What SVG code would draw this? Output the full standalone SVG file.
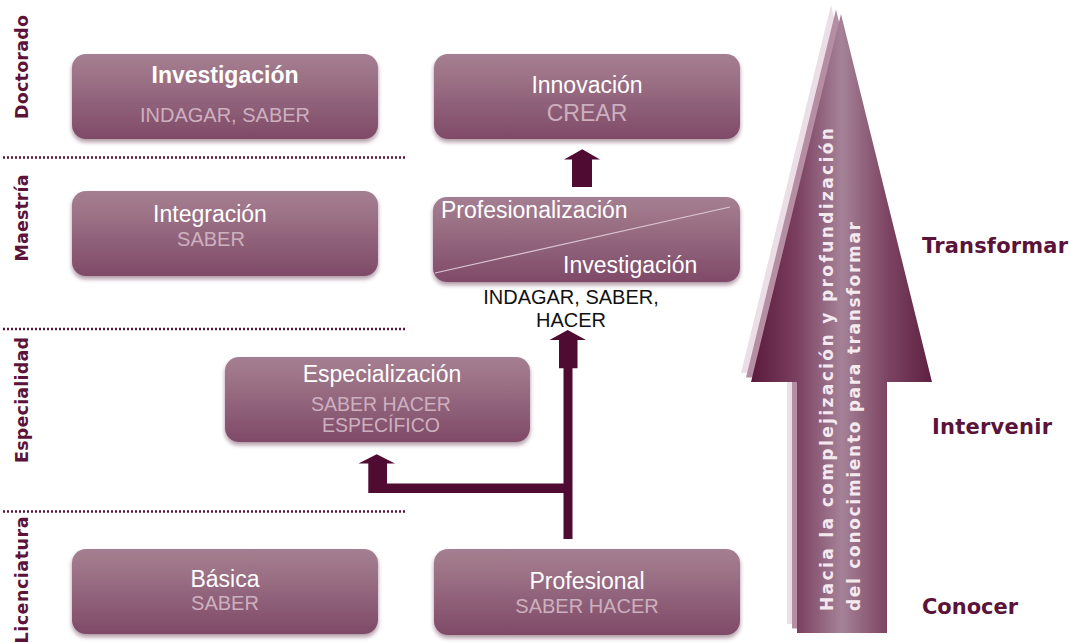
<svg xmlns="http://www.w3.org/2000/svg" width="1072" height="643" viewBox="0 0 1072 643">
  <defs>
    <linearGradient id="boxFill" x1="0" y1="0" x2="0" y2="1">
      <stop offset="0" stop-color="#a47f91"/>
      <stop offset="0.2" stop-color="#9f7689"/>
      <stop offset="1" stop-color="#7f4a68"/>
    </linearGradient>
    <linearGradient id="bigArrowFill" gradientUnits="userSpaceOnUse" x1="751" y1="0" x2="932" y2="0">
      <stop offset="0" stop-color="#5a1a3c"/>
      <stop offset="0.25" stop-color="#7a3e5e"/>
      <stop offset="0.5" stop-color="#a58298"/>
      <stop offset="0.75" stop-color="#7d4563"/>
      <stop offset="1" stop-color="#5e2042"/>
    </linearGradient>
    <filter id="boxShadow" x="-5%" y="-10%" width="110%" height="130%">
      <feDropShadow dx="0" dy="3" stdDeviation="2.2" flood-color="#4a1a36" flood-opacity="0.45"/>
    </filter>
    <polygon id="bigArrowShape" points="841,14 932,382 887,382 887,633 797,633 797,382 751,382"/>
  </defs>
  <style>
    .box { fill: url(#boxFill); filter: url(#boxShadow); }
    .title { font-family: "Liberation Sans", Arial, sans-serif; font-size: 23px; fill: #ffffff; text-anchor: middle; }
    .title-left { font-family: "Liberation Sans", Arial, sans-serif; font-size: 23px; fill: #ffffff; text-anchor: start; }
    .sub { font-family: "Liberation Sans", Arial, sans-serif; font-size: 20px; fill: #cdb0bf; text-anchor: middle; }
    .note { font-family: "Liberation Sans", Arial, sans-serif; font-size: 20px; fill: #111111; text-anchor: middle; }
    .level { font-family: "DejaVu Sans", Verdana, sans-serif; font-weight: bold; font-size: 17.5px; fill: #5b1339; text-anchor: middle; }
    .stage { font-family: "DejaVu Sans", Verdana, sans-serif; font-weight: bold; font-size: 21px; fill: #5b1339; }
    .divider { stroke: #5b1339; stroke-width: 2.5; stroke-dasharray: 2 2; fill: none; }
    .link { fill: #4f0b31; }
    .arrowText { font-family: "DejaVu Sans", Verdana, sans-serif; font-weight: bold; font-size: 17px; fill: #f4e9ef; }
  </style>

  <rect width="1072" height="643" fill="#ffffff"/>

  <!-- level dividers -->
  <g id="dividers">
    <line class="divider" x1="3" y1="157.5" x2="405" y2="157.5"/>
    <line class="divider" x1="3" y1="329" x2="405" y2="329"/>
    <line class="divider" x1="3" y1="511.5" x2="405" y2="511.5"/>
  </g>

  <!-- level labels -->
  <g id="levels">
    <text class="level" transform="translate(28,67) rotate(-90)" textLength="104">Doctorado</text>
    <text class="level" transform="translate(28,218) rotate(-90)" textLength="87">Maestría</text>
    <text class="level" transform="translate(28,400) rotate(-90)" textLength="126">Especialidad</text>
    <text class="level" transform="translate(28,580) rotate(-90)" textLength="127">Licenciatura</text>
  </g>

  <!-- Doctorado -->
  <g id="investigacion">
    <rect class="box" x="72" y="54" width="306" height="85" rx="14"/>
    <text class="title" x="225" y="83" font-weight="bold">Investigación</text>
    <text class="sub" x="225" y="122">INDAGAR, SABER</text>
  </g>
  <g id="innovacion">
    <rect class="box" x="434" y="54" width="306" height="85" rx="14"/>
    <text class="title" x="587" y="93">Innovación</text>
    <text class="sub" x="587" y="121" style="font-size:23px">CREAR</text>
  </g>

  <!-- Maestría -->
  <g id="integracion">
    <rect class="box" x="72" y="191" width="306" height="85" rx="14"/>
    <text class="title" x="210" y="222">Integración</text>
    <text class="sub" x="211" y="246">SABER</text>
  </g>
  <g id="profesionalizacion">
    <rect class="box" x="433" y="197" width="307" height="85" rx="14"/>
    <line x1="435" y1="273" x2="730" y2="207" stroke="#dcc6d2" stroke-width="1.2"/>
    <text class="title-left" x="441" y="218">Profesionalización</text>
    <text class="title-left" x="563" y="273">Investigación</text>
    <text class="note" x="571" y="304">INDAGAR, SABER,</text>
    <text class="note" x="571" y="327">HACER</text>
  </g>

  <!-- Especialidad -->
  <g id="especializacion">
    <rect class="box" x="225" y="357" width="305" height="85" rx="14"/>
    <text class="title" x="382" y="382">Especialización</text>
    <text class="sub" x="381" y="411" style="font-size:19.5px">SABER HACER</text>
    <text class="sub" x="381" y="432" style="font-size:19.5px">ESPECÍFICO</text>
  </g>

  <!-- Licenciatura -->
  <g id="basica">
    <rect class="box" x="72" y="549" width="306" height="85" rx="14"/>
    <text class="title" x="225" y="587">Básica</text>
    <text class="sub" x="225" y="610">SABER</text>
  </g>
  <g id="profesional">
    <rect class="box" x="434" y="549" width="306" height="86" rx="14"/>
    <text class="title" x="587" y="589">Profesional</text>
    <text class="sub" x="587" y="613">SABER HACER</text>
  </g>

  <!-- connectors between levels -->
  <g id="connectors">
    <polygon class="link" points="572,187 572,159.5 564,159.5 582.3,149.3 600,159.5 592,159.5 592,187"/>
    <polygon class="link" points="572.5,539 572.5,368.3 577.5,368.3 577.5,340 586,340 567.7,330 549.5,340 559,340 559,368.3 563.5,368.3 563.5,483.5 387,483.5 387,463.5 395,463.5 376.7,454.3 358.5,463.5 368.3,463.5 368.3,493 563.5,493 563.5,539"/>
  </g>

  <!-- progression arrow -->
  <g id="progression">
    <use href="#bigArrowShape" transform="translate(-10,-9)" fill="#ecdee6"/>
    <use href="#bigArrowShape" transform="translate(-5,-4.5)" fill="#b58ea3"/>
    <use href="#bigArrowShape" fill="url(#bigArrowFill)"/>
    <text class="arrowText" transform="translate(833,611) rotate(-90)" textLength="483" lengthAdjust="spacing">Hacia la complejización y profundización</text>
    <text class="arrowText" transform="translate(860,611) rotate(-90)" textLength="389" lengthAdjust="spacing">del conocimiento para transformar</text>
  </g>

  <!-- stages -->
  <g id="stages">
    <text class="stage" x="922" y="253" textLength="146">Transformar</text>
    <text class="stage" x="932" y="434" textLength="120">Intervenir</text>
    <text class="stage" x="922" y="614" textLength="96">Conocer</text>
  </g>
</svg>
